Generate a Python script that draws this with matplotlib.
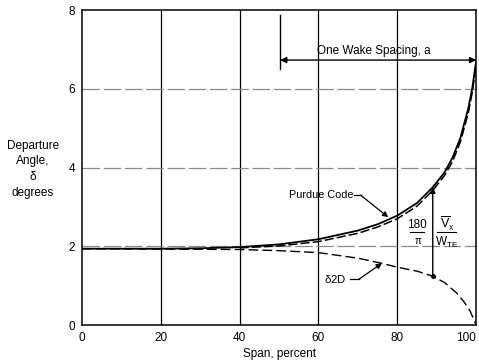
import matplotlib
matplotlib.use("Agg")
import matplotlib.pyplot as plt

plt.rcParams["font.family"] = ["Liberation Sans", "DejaVu Sans"]
plt.rcParams["mathtext.fontset"] = "custom"
plt.rcParams["mathtext.rm"] = "Liberation Sans"
plt.rcParams["mathtext.it"] = "Liberation Sans"

# === Departure angle vs span
span_purdue = [0, 10, 20, 30, 40, 50, 60, 70, 75, 80, 85, 89, 92, 94, 96, 98, 99, 100]
delta_purdue = [1.94, 1.94, 1.94, 1.95, 1.98, 2.05, 2.18, 2.40, 2.56, 2.78, 3.10, 3.50, 3.88, 4.25, 4.75, 5.50, 6.00, 6.70]

span_dash = [40, 50, 60, 70, 75, 80, 85, 89, 92, 94, 96, 98, 99, 100]
delta_dash = [1.96, 2.01, 2.12, 2.33, 2.49, 2.70, 3.02, 3.42, 3.80, 4.15, 4.65, 5.38, 5.90, 6.60]

span_2d = [0, 20, 40, 50, 60, 70, 76, 80, 85, 89, 92, 95, 97, 98.5, 99.5, 100]
delta_2d = [1.94, 1.93, 1.92, 1.89, 1.84, 1.70, 1.57, 1.47, 1.37, 1.24, 1.08, 0.82, 0.58, 0.35, 0.12, 0.0]

x_ticks = [0, 20, 40, 60, 80, 100]
y_ticks = [0, 2, 4, 6, 8]

fig = plt.figure(figsize=(4.79, 3.6), dpi=100)
ax = fig.add_axes([0.171, 0.097, 0.823, 0.875])

for x in x_ticks[1:-1]:
    ax.axvline(x, color="black", lw=0.9, zorder=1)
for y in y_ticks[1:-1]:
    ax.axhline(y, color="#8a8a8a", lw=0.9, ls=(0, (14, 3)), zorder=1)

ax.plot(span_purdue, delta_purdue, color="black", lw=1.3, zorder=3)
ax.plot(span_dash, delta_dash, color="black", lw=1.1, ls=(0, (6, 2)), zorder=3)
ax.plot(span_2d, delta_2d, color="black", lw=1.0, ls=(0, (7, 3)), zorder=3)

ax.set_xlim(0, 100)
ax.set_ylim(0, 8)
ax.set_xticks(x_ticks)
ax.set_yticks(y_ticks)
ax.tick_params(length=0, labelsize=8.5, pad=5)
ax.get_xticklabels()[-1].set_horizontalalignment("right")
for s in ax.spines.values():
    s.set_linewidth(1.1)

ax.set_xlabel("Span, percent", fontsize=8.5, labelpad=3)
fig.text(0.069, 0.53, "Departure\nAngle,\n\u03b4\ndegrees", fontsize=8.5,
         ha="center", va="center", linespacing=1.4)

# wake spacing marker
ax.plot([50.3, 50.3], [6.5, 7.87], color="black", lw=1.0)
ax.annotate("", xy=(50.3, 6.73), xytext=(100, 6.73),
            arrowprops=dict(arrowstyle="<|-|>", color="black", lw=1.0,
                            mutation_scale=9, shrinkA=0, shrinkB=0))
ax.text(74, 6.97, "One Wake Spacing, a", fontsize=8.5, ha="center", va="center")

# curve labels with leader lines
ax.text(60.7, 3.3, "Purdue Code", fontsize=7.8, ha="center", va="center")
ax.plot([68.9, 70.7], [3.3, 3.3], color="black", lw=0.9)
ax.annotate("", xy=(77.7, 2.74), xytext=(70.7, 3.3),
            arrowprops=dict(arrowstyle="-|>", color="black", lw=0.9,
                            mutation_scale=8, shrinkA=0, shrinkB=0))

ax.text(64.3, 1.16, r"$\delta$2D", fontsize=8.2, ha="center", va="center")
ax.plot([68.0, 70.2], [1.16, 1.16], color="black", lw=0.9)
ax.annotate("", xy=(76.1, 1.57), xytext=(70.2, 1.16),
            arrowprops=dict(arrowstyle="-|>", color="black", lw=0.9,
                            mutation_scale=8, shrinkA=0, shrinkB=0))

# velocity correction arrow with its factor
ax.annotate("", xy=(89, 3.5), xytext=(89, 1.24),
            arrowprops=dict(arrowstyle="-|>", color="black", lw=1.0,
                            mutation_scale=8, shrinkA=0, shrinkB=0))
ax.plot([89], [1.24], "o", ms=2.5, color="black", zorder=4)
ax.text(85.0, 2.55, "180", fontsize=8.5, ha="center", va="center")
ax.plot([83.3, 86.8], [2.36, 2.36], color="black", lw=0.8)
ax.text(85.2, 2.14, r"$\pi$", fontsize=7, ha="center", va="center")
ax.text(92.6, 2.58, r"$\overline{\mathrm{V}}_\mathrm{x}$", fontsize=9, ha="center", va="center")
ax.plot([90.2, 94.8], [2.36, 2.36], color="black", lw=0.8)
ax.text(92.6, 2.1, r"W$_\mathrm{TE}$", fontsize=8.5, ha="center", va="center")

fig.savefig("out.png", dpi=100)
